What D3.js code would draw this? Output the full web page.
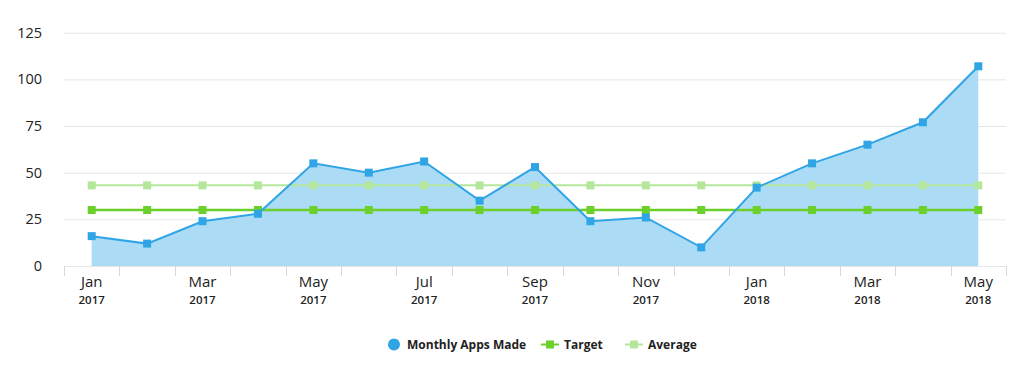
<!DOCTYPE html>
<html>
<head>
<meta charset="utf-8">
<script src="https://cdn.jsdelivr.net/npm/d3@7"></script>
<style>
  body { margin: 0; background: #fff; }
  svg { display: block; font-family: "Open Sans", "Noto Sans", sans-serif; }
</style>
</head>
<body>
<div id="chart"></div>
<script>
// months shown on the x axis
var months = ["Jan", "Feb", "Mar", "Apr", "May", "Jun", "Jul", "Aug", "Sep", "Oct", "Nov", "Dec",
              "Jan", "Feb", "Mar", "Apr", "May"]
var years = ["2017", "2017", "2017", "2017", "2017", "2017", "2017", "2017", "2017", "2017", "2017", "2017",
             "2018", "2018", "2018", "2018", "2018"]

// series values
var appsMade = [16, 12, 24, 28, 55, 50, 56, 35, 53, 24, 26, 10, 42, 55, 65, 77, 107]
var target = [30, 30, 30, 30, 30, 30, 30, 30, 30, 30, 30, 30, 30, 30, 30, 30, 30]
var average = [43.2, 43.2, 43.2, 43.2, 43.2, 43.2, 43.2, 43.2, 43.2, 43.2, 43.2, 43.2, 43.2, 43.2, 43.2, 43.2, 43.2]

var yTicks = [0, 25, 50, 75, 100, 125]

createChart()

function createChart() {

	var width = 1024,
		height = 371

	var left = 64, right = 1006, top = 32.7, bottom = 266

	var blue = "#2fa5e6",
		blueFill = "#acdbf5",
		green = "#6cd02b",
		lightGreen = "#b4e79b"

	var svg = d3.select("#chart").append("svg")
		.attr("width", width)
		.attr("height", height)

	var idx = d3.range(months.length)

	var xScale = d3.scaleBand()
		.domain(idx)
		.range([left, right])

	var xMid = function(i) { return xScale(i) + xScale.bandwidth() / 2 }

	var yScale = d3.scaleLinear()
		.domain([0, 125])
		.range([bottom, top])

	////////////////////////////// Grid + y axis //////////////////////////////

	svg.append("g")
		.selectAll("line")
		.data(yTicks)
		.enter().append("line")
		.attr("x1", left)
		.attr("x2", right)
		.attr("y1", d => yScale(d) + 0.5)
		.attr("y2", d => yScale(d) + 0.5)
		.style("stroke", "#e6e6e6")
		.style("stroke-width", 1)

	svg.append("g")
		.selectAll("text")
		.data(yTicks)
		.enter().append("text")
		.attr("x", 42)
		.attr("y", d => yScale(d) + 5)
		.attr("text-anchor", "end")
		.style("font-size", "14.5px")
		.style("fill", "#222")
		.text(d => d)

	////////////////////////////// x axis //////////////////////////////

	var ticks = d3.range(months.length + 1)
	svg.append("g")
		.selectAll("line")
		.data(ticks)
		.enter().append("line")
		.attr("x1", d => Math.round(left + d * xScale.bandwidth()) + 0.5)
		.attr("x2", d => Math.round(left + d * xScale.bandwidth()) + 0.5)
		.attr("y1", bottom)
		.attr("y2", bottom + 10)
		.style("stroke", "#d8d8d8")
		.style("stroke-width", 1)

	var labelIdx = idx.filter(i => i % 2 === 0)
	var xLab = svg.append("g")
	xLab.selectAll(".month")
		.data(labelIdx)
		.enter().append("text")
		.attr("class", "month")
		.attr("x", d => xMid(d))
		.attr("y", 286.5)
		.attr("text-anchor", "middle")
		.style("font-size", "15px")
		.style("fill", "#222")
		.text(d => months[d])
	xLab.selectAll(".year")
		.data(labelIdx)
		.enter().append("text")
		.attr("class", "year")
		.attr("x", d => xMid(d))
		.attr("y", 304)
		.attr("text-anchor", "middle")
		.style("font-size", "11.5px")
		.style("font-weight", "600")
		.style("fill", "#222")
		.text(d => years[d])

	////////////////////////////// Area + lines //////////////////////////////

	var area = d3.area()
		.x((d, i) => xMid(i))
		.y0(yScale(0))
		.y1(d => yScale(d))

	svg.append("path")
		.datum(appsMade)
		.attr("d", area)
		.style("fill", blueFill)

	function drawSeries(data, color, size, width) {
		var line = d3.line()
			.x((d, i) => xMid(i))
			.y(d => yScale(d))
		var g = svg.append("g")
		g.append("path")
			.datum(data)
			.attr("d", line)
			.style("fill", "none")
			.style("stroke", color)
			.style("stroke-width", width)
		g.selectAll("rect")
			.data(data)
			.enter().append("rect")
			.attr("x", (d, i) => xMid(i) - size / 2)
			.attr("y", d => yScale(d) - size / 2)
			.attr("width", size)
			.attr("height", size)
			.style("fill", color)
	}

	drawSeries(average, lightGreen, 8, 2)
	drawSeries(target, green, 8, 2.5)
	drawSeries(appsMade, blue, 8, 2)

	////////////////////////////// Legend //////////////////////////////

	var lg = svg.append("g").style("font-size", "12px").style("font-weight", "bold").style("fill", "#222")

	lg.append("circle")
		.attr("cx", 394)
		.attr("cy", 344.5)
		.attr("r", 6)
		.style("fill", blue)
	lg.append("text").attr("x", 407).attr("y", 349).text("Monthly Apps Made")

	var legendLines = [{x: 541, color: green, label: "Target"}, {x: 625, color: lightGreen, label: "Average"}]
	legendLines.forEach(function(d) {
		lg.append("line")
			.attr("x1", d.x).attr("x2", d.x + 18)
			.attr("y1", 344.5).attr("y2", 344.5)
			.style("stroke", d.color).style("stroke-width", 2)
		lg.append("rect")
			.attr("x", d.x + 5).attr("y", 340.5)
			.attr("width", 8).attr("height", 8)
			.style("fill", d.color)
		lg.append("text").attr("x", d.x + 23).attr("y", 349).text(d.label)
	})

}//function createChart
</script>
</body>
</html>
